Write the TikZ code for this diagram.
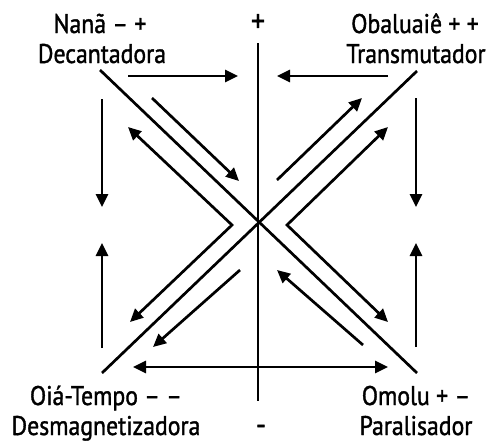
\documentclass[tikz,border=0pt]{standalone}
\usepackage{fontspec}
\setmainfont[FakeStretch=0.88,FakeBold=1.3]{PT Sans}
\usetikzlibrary{arrows.meta}
\tikzset{
  lbl/.style={font=\fontsize{27}{30}\selectfont, inner sep=0pt, anchor=base},
  sign/.style={font=\fontsize{32}{34}\selectfont, inner sep=0pt, anchor=center},
  ln/.style={line width=2.7pt},
  arr/.style={ln, -{Triangle[length=13pt,width=12pt]}},
  darr/.style={ln, {Triangle[length=13pt,width=12pt]}-{Triangle[length=13pt,width=12pt]}}
}
\begin{document}
\begin{tikzpicture}[x=1pt,y=-1pt]
\useasboundingbox (0,0) rectangle (489,445);
% labels
\node[lbl] (nana1) at (100,33) {Nanã – +};
\node[lbl] (nana2) at (102,63) {Decantadora};
\node[lbl] (obal1) at (415,33) {Obaluaiê + +};
\node[lbl] (obal2) at (416,63) {Transmutador};
\node[lbl] (oia1) at (106,405) {Oiá-Tempo – –};
\node[lbl] (oia2) at (106,435) {Desmagnetizadora};
\node[lbl] (omo1) at (416,405) {Omolu + –};
\node[lbl] (omo2) at (416,435) {Paralisador};
\node[sign] (plus) at (258,23) {+};
\node[sign] (minus) at (261,430) {-};
% coordinates
\coordinate (vt) at (258,43);
\coordinate (vb) at (258,401);
\coordinate (d1a) at (100,70);
\coordinate (d1b) at (417,373);
\coordinate (d2a) at (102,373);
\coordinate (d2b) at (417,71);
\coordinate (htl1) at (128,76);
\coordinate (htl2) at (238,76);
\coordinate (htr1) at (388,76);
\coordinate (htr2) at (277,76);
\coordinate (hb1) at (133,367);
\coordinate (hb2) at (388,367);
\coordinate (vl1) at (102,99);
\coordinate (vl2) at (102,207);
\coordinate (vl3) at (102,348);
\coordinate (vl4) at (102,243);
\coordinate (vr1) at (416,98);
\coordinate (vr2) at (416,207);
\coordinate (vr3) at (416,347);
\coordinate (vr4) at (416,243);
\coordinate (cl1) at (128,127);
\coordinate (clv) at (232,225);
\coordinate (cl2) at (130,322);
\coordinate (cr1) at (388,127);
\coordinate (crv) at (287,225);
\coordinate (cr2) at (388,322);
\coordinate (s1a) at (152,98);
\coordinate (s1b) at (239,181);
\coordinate (s2a) at (277,180);
\coordinate (s2b) at (362,98);
\coordinate (s3a) at (240,270);
\coordinate (s3b) at (153,347);
\coordinate (s4a) at (363,345);
\coordinate (s4b) at (277,270);
% lines
\draw[ln] (vt) -- (vb);
\draw[ln] (d1a) -- (d1b);
\draw[ln] (d2a) -- (d2b);
\draw[arr] (htl1) -- (htl2);
\draw[arr] (htr1) -- (htr2);
\draw[darr] (hb1) -- (hb2);
\draw[arr] (vl1) -- (vl2);
\draw[arr] (vl3) -- (vl4);
\draw[arr] (vr1) -- (vr2);
\draw[arr] (vr3) -- (vr4);
\draw[darr, line join=miter] (cl1) -- (clv) -- (cl2);
\draw[darr, line join=miter] (cr1) -- (crv) -- (cr2);
\draw[arr] (s1a) -- (s1b);
\draw[arr] (s2a) -- (s2b);
\draw[arr] (s3a) -- (s3b);
\draw[arr] (s4a) -- (s4b);
\end{tikzpicture}
\end{document}
